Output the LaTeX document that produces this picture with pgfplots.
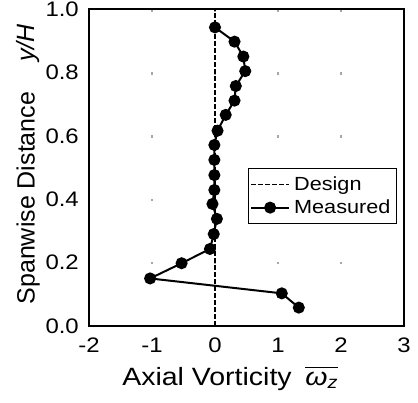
\documentclass[border=0pt]{standalone}
\usepackage{pgfplots}
\pgfplotsset{compat=1.18}
\usepackage{fontspec}
\setmainfont{Liberation Sans}[FakeStretch=1.14]
\newfontfamily\ylabfont{Liberation Sans}
\newcommand\tickfont{\fontsize{21}{25}\selectfont}
\begin{document}
\begin{tikzpicture}
\begin{axis}[
  scale only axis,
  anchor=south west, at={(0pt,0pt)},
  width=315pt, height=317pt,
  xmin=-2, xmax=3, ymin=0, ymax=1,
  xtick={-2,-1,0,1,2,3},
  ytick={0,0.2,0.4,0.6,0.8,1.0},
  /pgf/number format/assume math mode=true,
  yticklabel style={/pgf/number format/fixed,/pgf/number format/fixed zerofill,/pgf/number format/precision=1,
    inner sep=0pt, anchor=east, xshift=-10pt, font=\tickfont},
  xticklabel style={inner sep=0pt, anchor=north, yshift=-12pt, font=\tickfont},
  major tick length=0pt,
  axis line style={line width=1.6pt},
  grid=major,
  major grid style={gray!70, line width=1.2pt, dash pattern=on 1.2pt off 61.8pt, dash phase=0.6pt},
  xlabel={Axial Vorticity\hspace{0.55em}$\overline{\vphantom{A}\mbox{\textit{ω}\textsubscript{\textit{z}}}}$},
  ylabel={\ylabfont Spanwise Distance\hspace{1.2em}\textit{y/H}},
  xlabel style={at={([yshift=-40pt]axis description cs:0.105,0)}, anchor=north west, inner sep=0pt,
    font=\fontsize{25}{30}\selectfont},
  ylabel style={at={([xshift=-49pt]axis description cs:0,0.51)}, anchor=south, inner sep=0pt,
    font=\fontsize{25}{30}\selectfont},
  legend style={at={(0.978,0.498)}, anchor=north east, draw=black, line width=1.2pt,
    font=\fontsize{19}{23}\selectfont, inner xsep=2pt, inner ysep=6pt, row sep=4pt,
    nodes={inner xsep=4pt, inner ysep=2pt, font=\fontsize{19}{23}\selectfont}},
  legend cell align=left,
  legend image code/.code={\draw[mark repeat=2,mark phase=2,#1] plot coordinates {(0pt,0pt) (19pt,0pt) (38pt,0pt)};},
]
\addplot[black, line width=1.4pt, dash pattern=on 4.5pt off 2.5pt] coordinates {(0,0) (0,1)};
\addlegendentry{Design}
\addplot[black, line width=2pt, mark=*, mark size=5pt, mark options={solid}] coordinates {
(0.00,0.942) (0.31,0.897) (0.45,0.850) (0.48,0.804) (0.33,0.757) (0.31,0.711)
(0.17,0.666) (0.04,0.616) (-0.01,0.571) (-0.01,0.524) (-0.01,0.476) (-0.01,0.429)
(-0.04,0.385) (0.03,0.338) (-0.02,0.290) (-0.08,0.243) (-0.53,0.198) (-1.03,0.150)
(1.06,0.103) (1.33,0.058)};
\addlegendentry{Measured}
\end{axis}
\pgfresetboundingbox
\path[use as bounding box] (-89pt,-77pt) rectangle (329pt,326pt);
\end{tikzpicture}
\end{document}
